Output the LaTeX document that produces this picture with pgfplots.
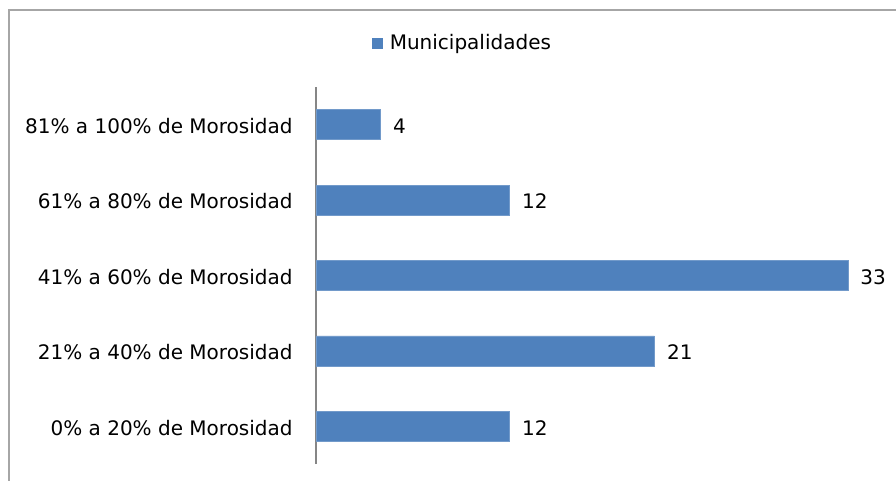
\documentclass[border=0pt]{standalone}
\usepackage{fontspec}
\setmainfont{DejaVu Sans}
\usepackage{pgfplots}
\pgfplotsset{compat=1.18}
\definecolor{barblue}{HTML}{4F81BD}
\definecolor{framegray}{HTML}{A6A6A6}
\definecolor{axisgray}{HTML}{868686}
\begin{document}
\begin{tikzpicture}[x=0.75pt,y=0.75pt]
\useasboundingbox (0,0) rectangle (896,480);
\draw[framegray,line width=1.5pt] (9,-5) -- (9,470) -- (900,470);
\coordinate (A) at (316,16);
\begin{axis}[
  at={(A)}, anchor=south west,
  scale only axis,
  width=423pt, height=282.75pt,
  xbar, bar width=22.5pt,
  xmin=0, xmax=35,
  ymin=-0.5, ymax=4.5,
  axis x line=none,
  axis y line*=left,
  y axis line style={axisgray, line width=0.9pt, -},
  ytick={0,1,2,3,4},
  yticklabels={0\% a 20\% de Morosidad,21\% a 40\% de Morosidad,41\% a 60\% de Morosidad,61\% a 80\% de Morosidad,81\% a 100\% de Morosidad},
  major tick length=0pt,
  /pgf/number format/assume math mode=true,
  yticklabel style={font=\fontsize{15}{17}\selectfont, xshift=-14pt, yshift=-1pt},
  nodes near coords,
  nodes near coords style={font=\fontsize{15}{17}\selectfont, anchor=west, xshift=6pt, yshift=-1pt},
  legend style={at={(0.091,1.117)}, anchor=west, draw=none, fill=none, font=\fontsize{15}{17}\selectfont, legend cell align=left},
  legend image code/.code={\fill[barblue] (0pt,-3.75pt) rectangle (7.5pt,3.75pt); \path (11.25pt,0pt);},
  clip=false,
]
\addplot[fill=barblue, draw=barblue!80!white] coordinates {(12,0) (21,1) (33,2) (12,3) (4,4)};
\addlegendentry{Municipalidades}
\end{axis}
\end{tikzpicture}
\end{document}
